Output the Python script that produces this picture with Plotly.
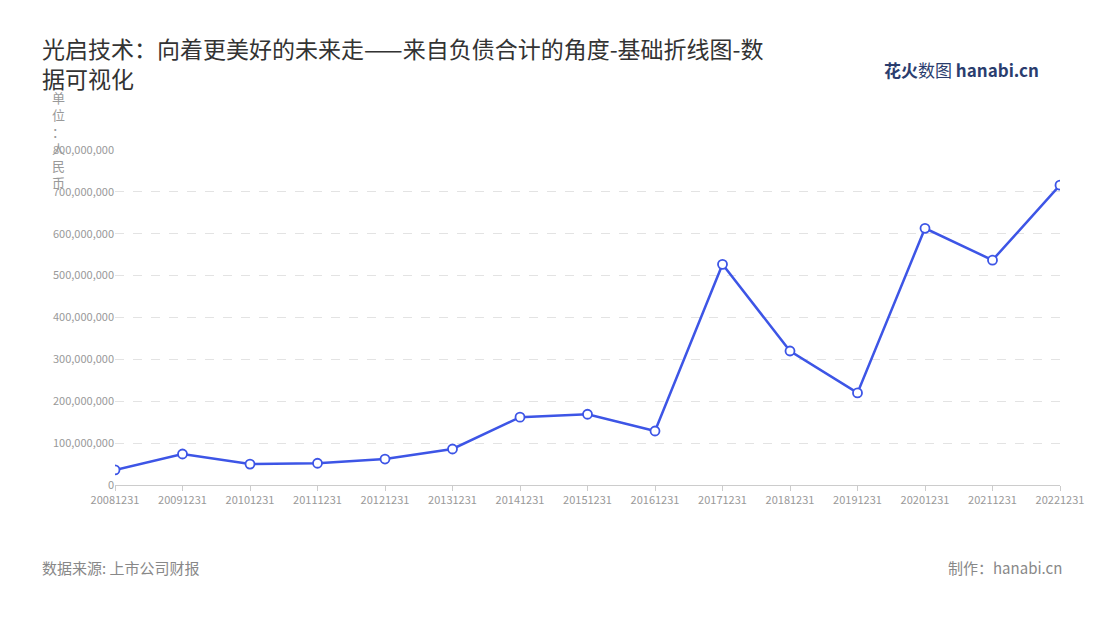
import plotly.graph_objects as go

years = ["20081231","20091231","20101231","20111231","20121231","20131231","20141231","20151231",
         "20161231","20171231","20181231","20191231","20201231","20211231","20221231"]
values = [36e6, 74e6, 50e6, 52e6, 62e6, 86e6, 162e6, 169e6, 129e6, 527e6, 320e6, 220e6, 613e6, 537e6, 716e6]
tick_vals = [0,1e8,2e8,3e8,4e8,5e8,6e8,7e8,8e8]
tick_text = ["0","100,000,000","200,000,000","300,000,000","400,000,000","500,000,000","600,000,000","700,000,000","800,000,000"]

font = "Noto Sans CJK SC"
fig = go.Figure(go.Scatter(x=years, y=values, mode="lines+markers",
    line=dict(color="#3d55e6", width=2.5),
    marker=dict(size=9, color="white", line=dict(color="#3d55e6", width=1.8))))
fig.update_layout(width=1100, height=620, plot_bgcolor="white", paper_bgcolor="white",
    margin=dict(l=107, r=48, t=142, b=143), showlegend=False,
    font=dict(family=font, color="#999"),
    title=dict(text="光启技术：向着更美好的未来走——来自负债合计的角度-基础折线图-数<br>据可视化",
               x=0.031, xanchor="left", y=0.92, yanchor="top", font=dict(size=23, color="#333", family=font)),
    xaxis=dict(type="category", range=[0, 14], showgrid=False, showline=True, linecolor="#ccc",
               ticks="outside", ticklen=5, tickcolor="#ccc", tickfont=dict(size=11, color="#999")),
    yaxis=dict(range=[0, 8e8], tickvals=tick_vals, ticktext=tick_text, showgrid=True,
               gridcolor="#e3e3e3", griddash="dash", zeroline=False, tickfont=dict(size=11, color="#999")))
fig.add_annotation(text="单<br>位<br>：<br>人<br>民<br>币", xref="paper", yref="paper", x=-0.06, y=1.19,
    xanchor="center", yanchor="top", showarrow=False, font=dict(size=13, color="#999"), align="center")
fig.add_annotation(text="数据来源: 上市公司财报", xref="paper", yref="paper", x=-0.079, y=-0.245,
    xanchor="left", yanchor="middle", showarrow=False, font=dict(size=15, color="#888"))
fig.add_annotation(text="制作：hanabi.cn", xref="paper", yref="paper", x=1.004, y=-0.245,
    xanchor="right", yanchor="middle", showarrow=False, font=dict(size=15, color="#888"))
fig.add_annotation(text="<b>花火</b>数图 <b>hanabi.cn</b>", xref="paper", yref="paper", x=0.98, y=1.24,
    xanchor="right", yanchor="middle", showarrow=False, font=dict(size=17, color="#2a3d6e"))
fig.write_html("out.html")
